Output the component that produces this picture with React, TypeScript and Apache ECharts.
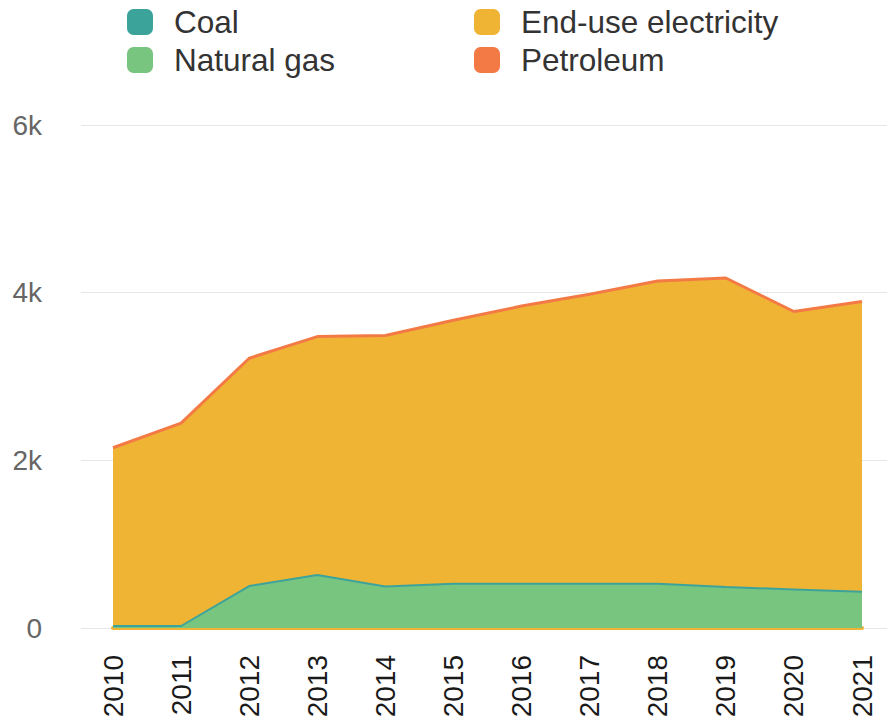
import React, { useEffect, useRef } from "react";
import * as echarts from "echarts";

const years = ["2010", "2011", "2012", "2013", "2014", "2015", "2016", "2017", "2018", "2019", "2020", "2021"];
const naturalGas = [20, 20, 496, 627, 490, 525, 525, 525, 524, 484, 456, 429];
const coal = [4, 4, 4, 4, 4, 4, 4, 4, 4, 4, 4, 4];
const endUseElectricity = [2116, 2409, 2708, 2835, 2986, 3131, 3301, 3441, 3602, 3677, 3305, 3452];
const petroleum = [10, 10, 10, 10, 10, 10, 10, 10, 10, 10, 10, 10];
const yTicks = [0, 2000, 4000, 6000];

const COLORS = {
  coal: "#3CA39B",
  gas: "#78C57F",
  elec: "#EFB434",
  pet: "#F47A45",
};

export default function App() {
  const ref = useRef<HTMLDivElement>(null);
  useEffect(() => {
    if (!ref.current) return;
    const chart = echarts.init(ref.current, undefined, { renderer: "svg" });
    const font = "'Liberation Sans', Arial, sans-serif";
    const yMax = yTicks[yTicks.length - 1];
    const yInterval = yTicks[1] - yTicks[0];
    const legendCommon = {
      orient: "vertical" as const,
      top: 1,
      itemWidth: 26,
      itemHeight: 26,
      itemGap: 6,
      icon: "roundRect",
      textStyle: { fontSize: 31.5, color: "#333", fontFamily: font, padding: [0, 0, 0, 16] },
      selectedMode: false,
    };
    chart.setOption({
      animation: false,
      textStyle: { fontFamily: font },
      legend: [
        { ...legendCommon, left: 122, data: ["Coal", "Natural gas"] },
        { ...legendCommon, left: 469, data: ["End-use electricity", "Petroleum"] },
      ],
      grid: [
        { left: 81, right: 0, top: 125, bottom: 96 },
        { left: 113, right: 25, top: 125, bottom: 96 },
      ],
      xAxis: [
        { type: "value", gridIndex: 0, show: false, min: 0, max: 1 },
        {
          type: "category",
          gridIndex: 1,
          data: years,
          boundaryGap: false,
          axisTick: { show: false },
          axisLine: { show: true, lineStyle: { color: COLORS.elec, width: 4 } },
          axisLabel: { rotate: 90, fontSize: 28, color: "#1a1a1a", margin: 27, fontFamily: font },
        },
      ],
      yAxis: [
        {
          type: "value",
          gridIndex: 0,
          min: 0,
          max: yMax,
          interval: yInterval,
          axisLine: { show: false },
          axisTick: { show: false },
          splitLine: { lineStyle: { color: "#e6e6e6", width: 1 } },
          axisLabel: {
            fontSize: 28,
            color: "#666",
            margin: 39,
            fontFamily: font,
            formatter: (v: number) => (v === 0 ? "0" : v / 1000 + "k"),
          },
        },
        { type: "value", gridIndex: 1, min: 0, max: yMax, interval: yInterval, show: false },
      ],
      series: [
        {
          name: "Natural gas",
          type: "line",
          xAxisIndex: 1,
          yAxisIndex: 1,
          stack: "total",
          data: naturalGas,
          showSymbol: false,
          color: COLORS.gas,
          lineStyle: { width: 0 },
          areaStyle: { color: COLORS.gas, opacity: 1 },
        },
        {
          name: "Coal",
          type: "line",
          xAxisIndex: 1,
          yAxisIndex: 1,
          stack: "total",
          data: coal,
          showSymbol: false,
          color: COLORS.coal,
          lineStyle: { width: 2, color: COLORS.coal },
          areaStyle: { color: COLORS.coal, opacity: 1 },
        },
        {
          name: "End-use electricity",
          type: "line",
          xAxisIndex: 1,
          yAxisIndex: 1,
          stack: "total",
          data: endUseElectricity,
          showSymbol: false,
          color: COLORS.elec,
          lineStyle: { width: 0 },
          areaStyle: { color: COLORS.elec, opacity: 1 },
        },
        {
          name: "Petroleum",
          type: "line",
          xAxisIndex: 1,
          yAxisIndex: 1,
          stack: "total",
          data: petroleum,
          showSymbol: false,
          color: COLORS.pet,
          lineStyle: { width: 3, color: COLORS.pet },
          areaStyle: { color: COLORS.pet, opacity: 1 },
        },
      ],
    });
    return () => chart.dispose();
  }, []);
  return (
    <div
      ref={ref}
      style={{ position: "absolute", left: 0, top: 0, width: 887, height: 724 }}
    />
  );
}
